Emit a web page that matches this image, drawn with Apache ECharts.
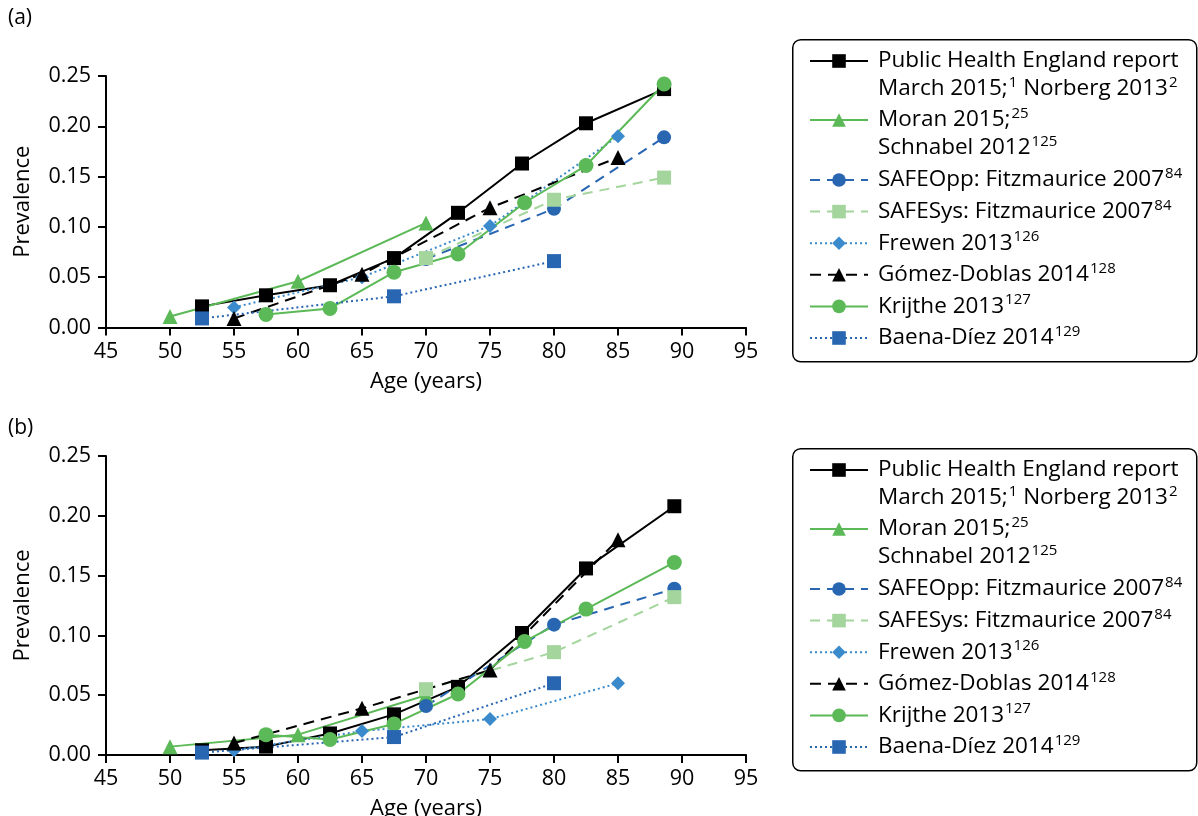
<!DOCTYPE html>
<html>
<head>
<meta charset="utf-8">
<script src="https://cdn.jsdelivr.net/npm/echarts@6/dist/echarts.min.js"></script>
<style>
  html, body { margin: 0; padding: 0; background: #fff; }
  #chart { width: 1198px; height: 816px; }
</style>
</head>
<body>
<div id="chart"></div>
<script>
// Age-specific prevalence estimates by study, panels (a) and (b).

// Axis ticks
const AGE_TICKS = [45, 50, 55, 60, 65, 70, 75, 80, 85, 90, 95];
const PREV_TICKS = [0.00, 0.05, 0.10, 0.15, 0.20, 0.25];

// ---- Panel (a) ----
const A_PHE_AGE = [52.5, 57.5, 62.5, 67.5, 72.5, 77.5, 82.5, 88.6];
const A_PHE_VAL = [0.021, 0.032, 0.042, 0.069, 0.114, 0.163, 0.203, 0.237];
const A_MORAN_AGE = [50, 60, 70];
const A_MORAN_VAL = [0.011, 0.046, 0.104];
const A_SAFEOPP_AGE = [70, 80, 88.6];
const A_SAFEOPP_VAL = [0.068, 0.118, 0.189];
const A_SAFESYS_AGE = [70, 80, 88.6];
const A_SAFESYS_VAL = [0.069, 0.127, 0.149];
const A_FREWEN_AGE = [55, 65, 75, 85];
const A_FREWEN_VAL = [0.020, 0.050, 0.101, 0.190];
const A_GOMEZ_AGE = [55, 65, 75, 85];
const A_GOMEZ_VAL = [0.009, 0.053, 0.119, 0.169];
const A_KRIJTHE_AGE = [57.5, 62.5, 67.5, 72.5, 77.7, 82.5, 88.6];
const A_KRIJTHE_VAL = [0.013, 0.019, 0.055, 0.073, 0.124, 0.161, 0.242];
const A_BAENA_AGE = [52.5, 67.5, 80];
const A_BAENA_VAL = [0.009, 0.031, 0.066];

// ---- Panel (b) ----
const B_PHE_AGE = [52.5, 57.5, 62.5, 67.5, 72.5, 77.5, 82.5, 89.4];
const B_PHE_VAL = [0.004, 0.007, 0.018, 0.034, 0.057, 0.102, 0.156, 0.208];
const B_MORAN_AGE = [50, 60, 70];
const B_MORAN_VAL = [0.007, 0.017, 0.050];
const B_SAFEOPP_AGE = [70, 80, 89.4];
const B_SAFEOPP_VAL = [0.041, 0.109, 0.139];
const B_SAFESYS_AGE = [70, 80, 89.4];
const B_SAFESYS_VAL = [0.055, 0.086, 0.132];
const B_FREWEN_AGE = [55, 65, 75, 85];
const B_FREWEN_VAL = [0.004, 0.020, 0.030, 0.060];
const B_GOMEZ_AGE = [55, 65, 75, 85];
const B_GOMEZ_VAL = [0.010, 0.039, 0.071, 0.180];
const B_KRIJTHE_AGE = [57.5, 62.5, 67.5, 72.5, 77.7, 82.5, 89.4];
const B_KRIJTHE_VAL = [0.017, 0.013, 0.026, 0.051, 0.095, 0.122, 0.161];
const B_BAENA_AGE = [52.5, 67.5, 80];
const B_BAENA_VAL = [0.002, 0.015, 0.060];

// Series keys in legend order
const STUDIES = ['phe', 'moran', 'safeopp', 'safesys', 'frewen', 'gomez', 'krijthe', 'baena'];

// Legend texts (rich markup: t = body text, s = superscript reference)
const LEGEND_LABELS = {
  phe: '{t|Public Health England report}\n{t|March 2015;}{s|1}{t| Norberg 2013}{s|2}',
  moran: '{t|Moran 2015;}{s|25}\n{t|Schnabel 2012}{s|125}',
  safeopp: '{t|SAFEOpp: Fitzmaurice 2007}{s|84}',
  safesys: '{t|SAFESys: Fitzmaurice 2007}{s|84}',
  frewen: '{t|Frewen 2013}{s|126}',
  gomez: '{t|Gómez-Doblas 2014}{s|128}',
  krijthe: '{t|Krijthe 2013}{s|127}',
  baena: '{t|Baena-Díez 2014}{s|129}'
};

const PANEL_DATA = [
  {
    phe: [A_PHE_AGE, A_PHE_VAL], moran: [A_MORAN_AGE, A_MORAN_VAL],
    safeopp: [A_SAFEOPP_AGE, A_SAFEOPP_VAL], safesys: [A_SAFESYS_AGE, A_SAFESYS_VAL],
    frewen: [A_FREWEN_AGE, A_FREWEN_VAL], gomez: [A_GOMEZ_AGE, A_GOMEZ_VAL],
    krijthe: [A_KRIJTHE_AGE, A_KRIJTHE_VAL], baena: [A_BAENA_AGE, A_BAENA_VAL]
  },
  {
    phe: [B_PHE_AGE, B_PHE_VAL], moran: [B_MORAN_AGE, B_MORAN_VAL],
    safeopp: [B_SAFEOPP_AGE, B_SAFEOPP_VAL], safesys: [B_SAFESYS_AGE, B_SAFESYS_VAL],
    frewen: [B_FREWEN_AGE, B_FREWEN_VAL], gomez: [B_GOMEZ_AGE, B_GOMEZ_VAL],
    krijthe: [B_KRIJTHE_AGE, B_KRIJTHE_VAL], baena: [B_BAENA_AGE, B_BAENA_VAL]
  }
];

// ---- Styling ----
const FONT = 'Open Sans';
const GREEN = '#5cb957';
const LIGHT_GREEN = '#a3d59d';
const DARK_BLUE = '#2866b2';
const MID_BLUE = '#3b8acb';

const STYLE = {
  phe:     { color: '#000000', symbol: 'rect',     size: 14, dash: 'solid' },
  moran:   { color: GREEN,     symbol: 'triangle', size: 15, dash: 'solid' },
  safeopp: { color: DARK_BLUE, symbol: 'circle',   size: 14, dash: [10, 7] },
  safesys: { color: LIGHT_GREEN, symbol: 'rect',   size: 14, dash: [10, 7] },
  frewen:  { color: MID_BLUE,  symbol: 'diamond',  size: 14, dash: [2, 3] },
  gomez:   { color: '#000000', symbol: 'triangle', size: 15, dash: [11, 7] },
  krijthe: { color: GREEN,     symbol: 'circle',   size: 15, dash: 'solid' },
  baena:   { color: DARK_BLUE, symbol: 'rect',     size: 14, dash: [2, 3] }
};

// Plot geometry (fixed plot boxes; the lower axis title may run to the page edge)
const GRIDS = [
  { left: 106, top: 76, width: 640, height: 251.5, outerBoundsMode: 'none' },
  { left: 106, top: 456, width: 640, height: 299, outerBoundsMode: 'none' }
];
const LEGEND_BOXES = [
  { x: 792, y: 39, w: 404, h: 322 },
  { x: 792, y: 448, w: 404, h: 322 }
];
const LEGEND_LEFT = 809;
const LINE_H = 27.5;
const TEXT_SIZE = 22.5;
const AXIS_SIZE = 21.5;
// icon centre of first line of each entry, relative to legend box top
const ENTRY_OFFSETS = { phe: 22, moran: 81, rest: 141 };
const REST_GAP = 31.6 - LINE_H;

const axisLineStyle = { color: '#000', width: 2 };

function makeXAxis(i) {
  return {
    type: 'value', gridIndex: i, min: AGE_TICKS[0], max: AGE_TICKS[AGE_TICKS.length - 1],
    interval: AGE_TICKS[1] - AGE_TICKS[0],
    name: 'Age (years)', nameLocation: 'middle', nameGap: 43,
    nameTextStyle: { fontFamily: FONT, fontSize: 22, color: '#000' },
    axisLine: { show: true, onZero: false, lineStyle: axisLineStyle },
    axisTick: { show: true, inside: false, length: 8, lineStyle: axisLineStyle },
    axisLabel: { fontFamily: FONT, fontSize: AXIS_SIZE, color: '#000', margin: 13 },
    splitLine: { show: false }
  };
}

function makeYAxis(i) {
  return {
    type: 'value', gridIndex: i, min: PREV_TICKS[0], max: PREV_TICKS[PREV_TICKS.length - 1],
    interval: PREV_TICKS[1] - PREV_TICKS[0],
    name: 'Prevalence', nameLocation: 'middle', nameGap: 72, nameRotate: 90,
    nameTextStyle: { fontFamily: FONT, fontSize: 22, color: '#000' },
    axisLine: { show: true, onZero: false, lineStyle: axisLineStyle },
    axisTick: { show: true, inside: false, length: 8, lineStyle: axisLineStyle },
    axisLabel: { fontFamily: FONT, fontSize: AXIS_SIZE, color: '#000', margin: 15,
                 formatter: v => v.toFixed(2) },
    splitLine: { show: false }
  };
}

const series = [];
PANEL_DATA.forEach((panel, i) => {
  STUDIES.forEach(key => {
    const st = STYLE[key];
    const [ages, vals] = panel[key];
    series.push({
      name: key,
      type: 'line',
      xAxisIndex: i, yAxisIndex: i,
      data: ages.map((a, k) => [a, vals[k]]),
      symbol: st.symbol,
      symbolSize: st.size,
      showAllSymbol: true,
      lineStyle: { color: st.color, width: 2, type: st.dash },
      itemStyle: { color: st.color },
      emphasis: { disabled: true },
      animation: false
    });
  });
});

const richText = {
  t: { fontFamily: FONT, fontSize: TEXT_SIZE, lineHeight: LINE_H, color: '#000' },
  s: { fontFamily: FONT, fontSize: 15, lineHeight: LINE_H, verticalAlign: 'top', color: '#000', padding: [0, 0, 0, 1] }
};

function makeLegend(top, names, twoLine) {
  return {
    orient: 'vertical', left: LEGEND_LEFT, top: top, padding: 0,
    itemWidth: 58, itemHeight: 17, itemGap: REST_GAP,
    selectedMode: false,
    data: names,
    formatter: name => LEGEND_LABELS[name],
    textStyle: {
      fontFamily: FONT, fontSize: TEXT_SIZE, lineHeight: LINE_H, color: '#000',
      padding: twoLine ? [LINE_H, 0, 0, 5] : [0, 0, 0, 5],
      rich: richText
    }
  };
}

const legends = [];
const graphics = [];
LEGEND_BOXES.forEach(box => {
  // two-line entries: text block is 3 lines tall (top padding) and centred on the icon
  legends.push(makeLegend(box.y + ENTRY_OFFSETS.phe - 1.5 * LINE_H, ['phe'], true));
  legends.push(makeLegend(box.y + ENTRY_OFFSETS.moran - 1.5 * LINE_H, ['moran'], true));
  legends.push(makeLegend(box.y + ENTRY_OFFSETS.rest - LINE_H / 2,
    ['safeopp', 'safesys', 'frewen', 'gomez', 'krijthe', 'baena'], false));
  graphics.push({
    type: 'rect', left: box.x, top: box.y, z: -1,
    shape: { width: box.w, height: box.h, r: 8 },
    style: { fill: '#fff', stroke: '#000', lineWidth: 1.5 }
  });
});

graphics.push({ type: 'text', left: 8, top: 8,
  style: { text: '(a)', font: '21px "' + FONT + '"', fill: '#000' } });
graphics.push({ type: 'text', left: 8, top: 418,
  style: { text: '(b)', font: '21px "' + FONT + '"', fill: '#000' } });

const chart = echarts.init(document.getElementById('chart'), null, { renderer: 'canvas' });
chart.setOption({
  animation: false,
  backgroundColor: '#fff',
  grid: GRIDS,
  xAxis: [makeXAxis(0), makeXAxis(1)],
  yAxis: [makeYAxis(0), makeYAxis(1)],
  legend: legends,
  graphic: graphics,
  series: series
});
</script>
</body>
</html>
